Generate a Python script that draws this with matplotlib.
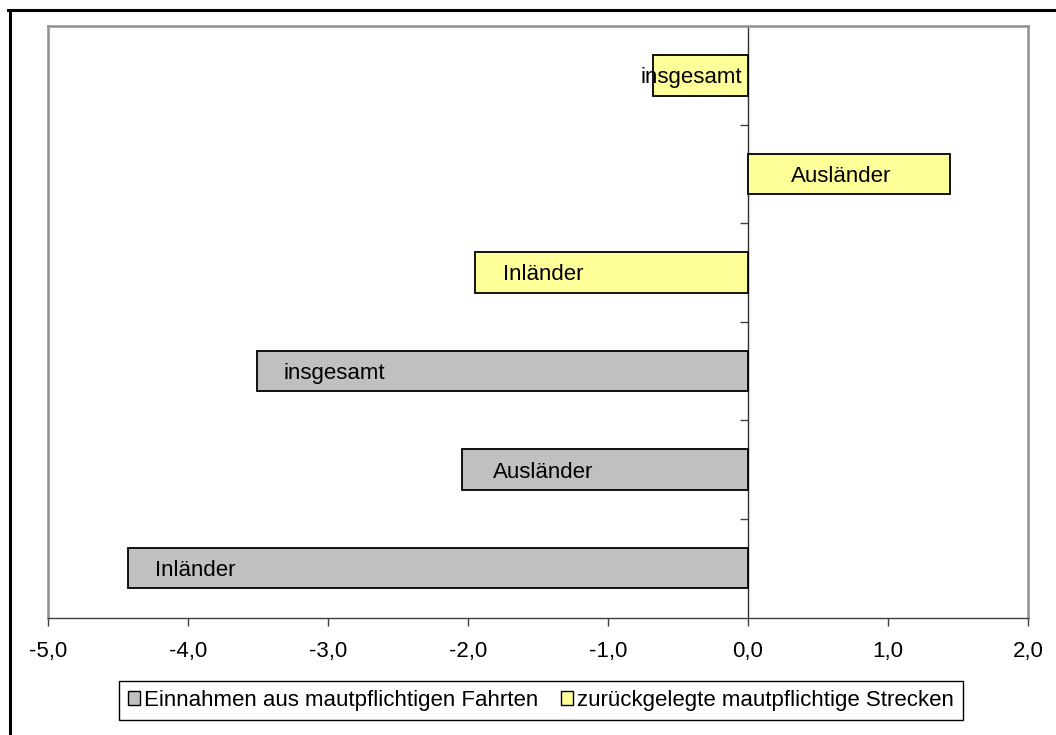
import numpy as np
import matplotlib
matplotlib.use("Agg")
import matplotlib.pyplot as plt
from matplotlib.patches import Patch
from matplotlib.lines import Line2D

plt.rcParams['font.family'] = ['Liberation Sans', 'DejaVu Sans']

# data (Veränderung in %)
categories = ['Inländer', 'Ausländer', 'insgesamt']
einnahmen = [-4.43, -2.04, -3.51]   # Einnahmen aus mautpflichtigen Fahrten
strecken = [-1.95, 1.44, -0.68]     # zurückgelegte mautpflichtige Strecken
series_names = ['Einnahmen aus mautpflichtigen Fahrten',
                'zurückgelegte mautpflichtige Strecken']
xticks = np.arange(-5, 3, 1)

gray = '#C0C0C0'
yellow = '#FFFF99'
fs = 16

fig = plt.figure(figsize=(10.56, 7.35), dpi=100)
ax = fig.add_axes([48/1056, 1-617.5/735, 980/1056, 591.5/735])

n = len(categories)
y_gray = np.arange(n)
y_yel = np.arange(n, 2*n)
h = 0.41
ax.barh(y_gray, einnahmen, height=h, color=gray, edgecolor='black', lw=1.3, zorder=3)
ax.barh(y_yel, strecken, height=h, color=yellow, edgecolor='black', lw=1.3, zorder=3)

# data labels (pixel offsets from the left end of each bar)
off_gray = [27, 31, 27]
off_yel = [28, 43, -12]
px = 72 / 100
for ys, vals, offs in [(y_gray, einnahmen, off_gray), (y_yel, strecken, off_yel)]:
    for y, v, o, lab in zip(ys, vals, offs, categories):
        ax.annotate(lab, xy=(min(v, 0), y), xytext=(o*px, 0), textcoords='offset points',
                    ha='left', va='center_baseline', fontsize=fs, zorder=5)

ax.set_xlim(-5, 2)
ax.set_ylim(-0.5, 2*n - 0.5)
ax.set_xticks(xticks)
ax.set_xticklabels([f'{t:.1f}'.replace('.', ',') for t in xticks], fontsize=fs)
ax.tick_params(axis='x', direction='out', length=6, width=1, color='#404040', pad=11)
ax.set_yticks([])
for s in ['left', 'top', 'right']:
    ax.spines[s].set_color('#909090')
    ax.spines[s].set_linewidth(1.8)
ax.spines['bottom'].set_color('#404040')
ax.spines['bottom'].set_linewidth(1)

# category axis at zero
sec = ax.secondary_yaxis(5/7)
sec.set_yticks(np.arange(0.5, 2*n - 0.5, 1))
sec.set_yticklabels([])
sec.yaxis.set_ticks_position('left')
sec.tick_params(direction='out', length=6, width=1, color='#404040')
for s in sec.spines.values():
    s.set_visible(False)
sec.spines['left'].set_visible(True)
sec.spines['left'].set_color('#303030')
sec.spines['left'].set_linewidth(1)

handles = [Patch(facecolor=gray, edgecolor='black', lw=1),
           Patch(facecolor=yellow, edgecolor='black', lw=1)]
leg = fig.legend(handles, series_names, ncol=2, loc='center',
                 bbox_to_anchor=(541/1056, 1-700.5/735), fontsize=fs,
                 frameon=True, fancybox=False, framealpha=1, edgecolor='black',
                 handlelength=0.55, handleheight=0.55, handletextpad=0.2,
                 columnspacing=1.0, borderpad=0.4, borderaxespad=0)
leg.get_frame().set_linewidth(1)

# outer chart frame (only top/left visible)
fig.add_artist(Line2D([9.5/1056, 9.5/1056], [0, 1-9.5/735], transform=fig.transFigure,
                      color='black', lw=2.2))
fig.add_artist(Line2D([8/1056, 1], [1-9.5/735, 1-9.5/735], transform=fig.transFigure,
                      color='black', lw=2.2))

fig.savefig('out.png', dpi=100)
